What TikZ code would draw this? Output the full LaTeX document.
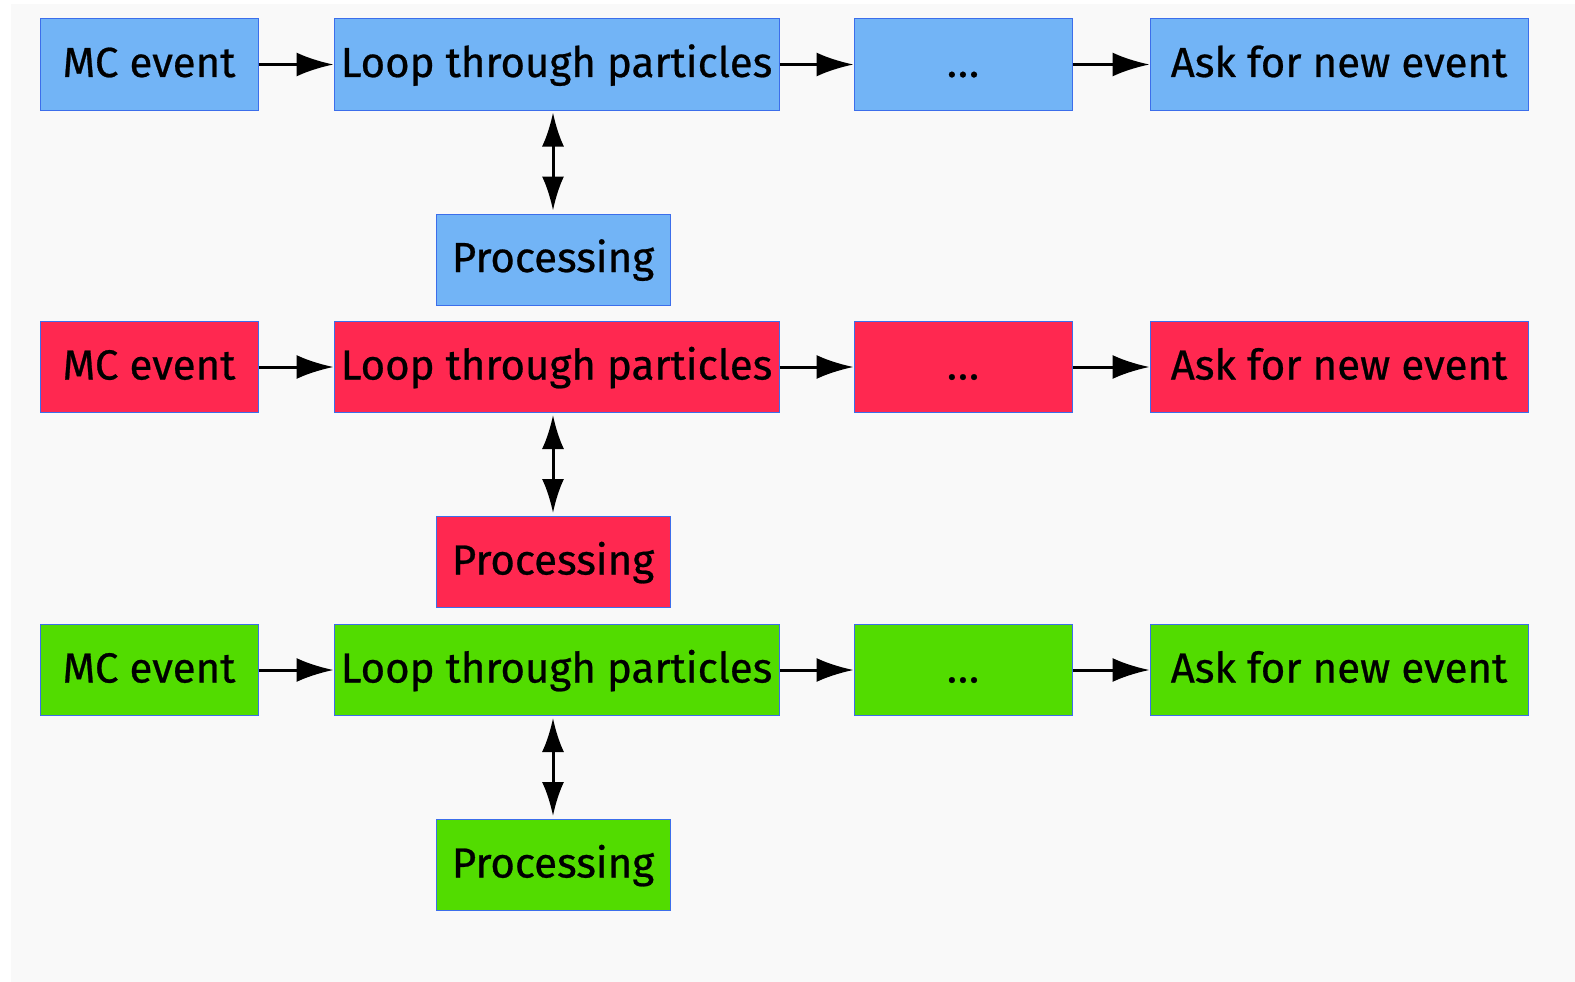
\documentclass[tikz,border=0pt]{standalone}
\usepackage{fontspec}
\setmainfont{Fira Sans}
\newfontfamily\labelfont[FakeBold=0.6]{Fira Sans}
\usetikzlibrary{arrows.meta,calc}
\definecolor{paneblue}{RGB}{114,180,246}
\definecolor{panered}{RGB}{255,40,80}
\definecolor{panegreen}{RGB}{82,220,0}
\definecolor{edgeblue}{RGB}{60,110,235}
\definecolor{canvas}{RGB}{249,249,249}
\tikzset{
  box/.style={draw=edgeblue, line width=1pt, inner sep=0pt,
    minimum height=91pt, text height=31pt, text depth=6pt, text=black,
    font=\labelfont\fontsize{42}{50}\selectfont},
  flow/.style={line width=3pt, -{Latex[length=37pt,width=24pt]}},
  both/.style={line width=3pt, {Latex[length=34pt,width=22pt]}-{Latex[length=34pt,width=22pt]}},
}
\begin{document}
\begin{tikzpicture}[x=1pt,y=-1pt]
  \useasboundingbox (0,0) rectangle (1575,982);
  \fill[white] (0,0) rectangle (1575,982);
  \fill[canvas] (11,4) rectangle (1575,982);
  \foreach \r/\cy/\col in {a/64.5/paneblue, b/367/panered, c/670/panegreen}{
    \node[box, fill=\col, minimum width=218pt] (mc\r)   at (149,\cy)   {MC event};
    \node[box, fill=\col, minimum width=445pt] (loop\r) at (556.5,\cy) {Loop through particles};
    \node[box, fill=\col, minimum width=218pt] (dots\r) at (963,\cy)   {.\kern1pt.\kern1pt.};
    \node[box, fill=\col, minimum width=378pt] (ask\r)  at (1339,\cy)  {Ask for new event};
    \node[box, fill=\col, minimum width=234pt] (proc\r) at (553,\cy+195) {Processing};
    \draw[flow] (mc\r) -- (loop\r);
    \draw[flow] (loop\r) -- (dots\r);
    \draw[flow] (dots\r) -- (ask\r);
    \draw[both, shorten <=2pt, shorten >=3pt] (loop\r.south -| proc\r.north) -- (proc\r.north);
  }
\end{tikzpicture}
\end{document}
